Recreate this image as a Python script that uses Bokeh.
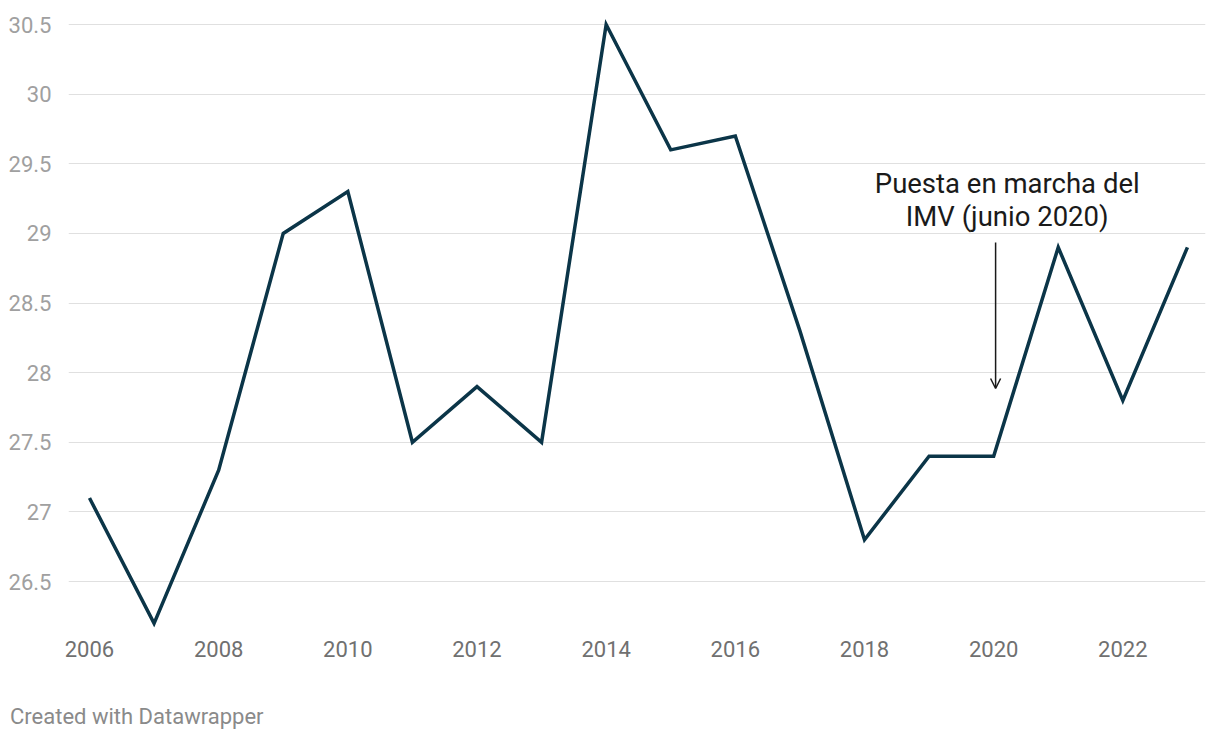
from bokeh.plotting import figure
from bokeh.models import (Range1d, FixedTicker, Label, Arrow, OpenHead, Div)
from bokeh.layouts import column
from bokeh.embed import file_html
from bokeh.resources import INLINE

years = list(range(2006, 2024))
values = [27.1, 26.2, 27.3, 29.0, 29.3, 27.5, 27.9, 27.5, 30.5, 29.6,
          29.7, 28.3, 26.8, 27.4, 27.4, 28.9, 27.8, 28.9]
y_ticks = [26.5, 27.0, 27.5, 28.0, 28.5, 29.0, 29.5, 30.0, 30.5]
y_tick_labels = ["26.5", "27", "27.5", "28", "28.5", "29", "29.5", "30", "30.5"]
x_ticks = [2006, 2008, 2010, 2012, 2014, 2016, 2018, 2020, 2022]
annotation_lines = ["Puesta en marcha del", "IMV (junio 2020)"]
footer = "Created with Datawrapper"

FONT = "Roboto"

p = figure(width=1220, height=690, output_backend="svg", toolbar_location=None,
           x_range=Range1d(2005.675, 2023.28), y_range=Range1d(26.17, 30.572),
           min_border_left=68, min_border_right=15, min_border_top=14,
           min_border_bottom=63)
p.outline_line_color = None
p.background_fill_color = "white"
p.border_fill_color = "white"

p.line(years, values, line_color="#0b3548", line_width=3.5, line_join="miter")

# axes
p.yaxis.ticker = FixedTicker(ticks=y_ticks)
p.yaxis.major_label_overrides = {t: l for t, l in zip(y_ticks, y_tick_labels)}
p.yaxis.axis_line_color = None
p.yaxis.major_tick_line_color = None
p.yaxis.minor_tick_line_color = None
p.yaxis.major_label_text_font = FONT
p.yaxis.major_label_text_font_size = "22px"
p.yaxis.major_label_text_color = "#a0a0a0"
p.yaxis.major_label_standoff = 11

p.xaxis.ticker = FixedTicker(ticks=x_ticks)
p.xaxis.axis_line_color = None
p.xaxis.major_tick_line_color = None
p.xaxis.minor_tick_line_color = None
p.xaxis.major_label_text_font = FONT
p.xaxis.major_label_text_font_size = "22px"
p.xaxis.major_label_text_color = "#707070"
p.xaxis.major_label_standoff = 7

p.xgrid.grid_line_color = None
p.ygrid.grid_line_color = "#e0e0e0"
p.ygrid.grid_line_width = 1.2

# annotation
ann_x = 2020.21
for txt, yy in zip(annotation_lines, [29.358, 29.121]):
    p.add_layout(Label(x=ann_x, y=yy, text=txt, text_font=FONT,
                       text_font_size="27.5px", text_color="#1a1a1a",
                       text_align="center", text_baseline="middle"))

p.add_layout(Arrow(x_start=2020.03, y_start=28.934, x_end=2020.03, y_end=27.886,
                   line_color="#1a1a1a", line_width=1.5,
                   end=OpenHead(size=10, line_color="#1a1a1a", line_width=1.5)))

foot = Div(text=footer, width=600, height=40, margin=(14, 0, 0, 10),
           styles={"font-family": FONT, "font-size": "22px", "color": "#8a8a8a",
                   "line-height": "26px"})

layout = column(p, foot, spacing=0)
open("out.html", "w").write(file_html(layout, INLINE))
